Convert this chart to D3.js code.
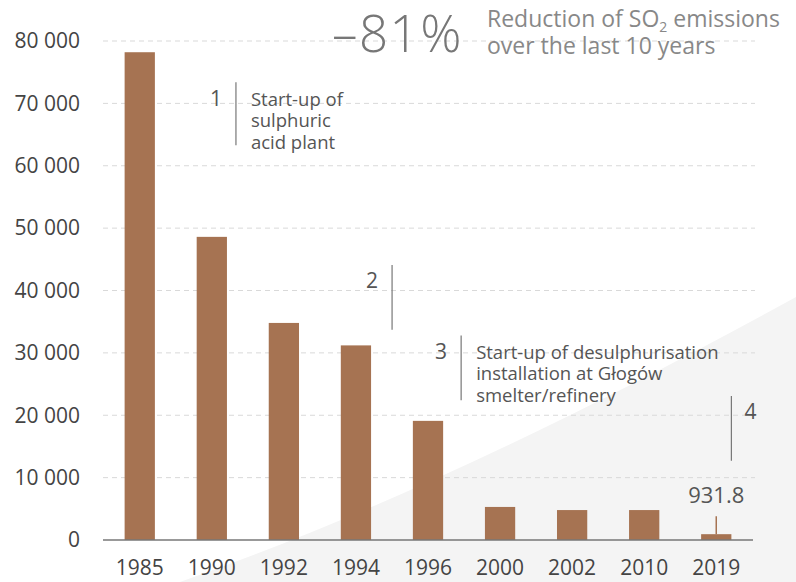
<!DOCTYPE html>
<html>
<head>
<meta charset="utf-8">
<script src="https://cdn.jsdelivr.net/npm/d3@7"></script>
<style>
  body { margin: 0; background: #fff; }
  svg { display: block; font-family: "Open Sans", sans-serif; }
</style>
</head>
<body>
<svg id="chart"></svg>
<script>
// SO2 emissions by year
const years = ["1985", "1990", "1992", "1994", "1996", "2000", "2002", "2010", "2019"];
const emissions = [78200, 48600, 34800, 31200, 19100, 5300, 4800, 4800, 931.8];
const yTicks = [0, 10000, 20000, 30000, 40000, 50000, 60000, 70000, 80000];

// numbered milestones: placed after a given year's bar, spanning a value range
const noteNums = ["1", "2", "3", "4"];
const noteYears = ["1990", "1994", "1996", "2019"];
const noteTop = [73400, 44100, 32800, 23100];
const noteBottom = [63300, 33700, 22400, 12700];
const noteTexts = [
    ["Start-up of", "sulphuric", "acid plant"],
    [],
    ["Start-up of desulphurisation", "installation at Głogów", "smelter/refinery"],
    []
];

const width = 796;
const height = 582;

const svg = d3.select("#chart")
    .attr("width", width)
    .attr("height", height);

// light grey wedge in the lower right corner
svg.append("path")
    .attr("d", "M180,582 Q449,488 796,297 L796,582 Z")
    .attr("fill", "#f4f4f4");

const x = d3.scaleBand()
    .domain(years)
    .range([103, 753])
    .paddingInner(0.58)
    .paddingOuter(0.3);

const y = d3.scaleLinear()
    .domain([0, 80000])
    .range([540, 41]);

const fmt = d3.formatLocale({ decimal: ".", thousands: " ", grouping: [3], currency: ["", ""] }).format(",");

// grid
svg.append("g")
    .selectAll("line")
    .data(yTicks.filter(d => d > 0))
    .enter()
    .append("line")
    .attr("x1", 103)
    .attr("x2", 755)
    .attr("y1", d => y(d))
    .attr("y2", d => y(d))
    .attr("stroke", "#d9d9d9")
    .attr("stroke-width", 1)
    .attr("stroke-dasharray", "5,4");

// y labels
svg.append("g")
    .selectAll("text")
    .data(yTicks)
    .enter()
    .append("text")
    .attr("x", 80)
    .attr("y", d => y(d))
    .attr("dy", "0.35em")
    .attr("text-anchor", "end")
    .style("font-size", "21px")
    .style("fill", "#444")
    .text(d => fmt(d));

// bars
svg.append("g")
    .selectAll("rect")
    .data(emissions)
    .enter()
    .append("rect")
    .attr("x", (d, i) => x(years[i]))
    .attr("y", d => y(d))
    .attr("width", x.bandwidth())
    .attr("height", d => y(0) - y(d))
    .attr("fill", "#a67352");

// baseline
svg.append("line")
    .attr("x1", 103)
    .attr("x2", 753)
    .attr("y1", y(0))
    .attr("y2", y(0))
    .attr("stroke", "#777")
    .attr("stroke-width", 1.5);

// x labels
svg.append("g")
    .selectAll("text")
    .data(years)
    .enter()
    .append("text")
    .attr("x", d => x(d) + x.bandwidth() / 2)
    .attr("y", 575)
    .attr("text-anchor", "middle")
    .style("font-size", "21px")
    .style("fill", "#444")
    .text(d => d);

// last value callout
const lastYear = years[years.length - 1];
const lastVal = emissions[emissions.length - 1];
const cx = x(lastYear) + x.bandwidth() / 2;
svg.append("line")
    .attr("x1", cx)
    .attr("x2", cx)
    .attr("y1", y(lastVal))
    .attr("y2", y(lastVal) - 18)
    .attr("stroke", "#a67352")
    .attr("stroke-width", 1.5);
svg.append("text")
    .attr("x", cx)
    .attr("y", y(lastVal) - 31)
    .attr("text-anchor", "middle")
    .style("font-size", "22px")
    .style("fill", "#555")
    .text(lastVal.toFixed(1));

// milestones
const notes = svg.append("g")
    .selectAll("g")
    .data(noteNums)
    .enter()
    .append("g");

const lineX = [9, 21, 18, 0];
notes.append("line")
    .attr("x1", (d, i) => x(noteYears[i]) + x.bandwidth() + lineX[i])
    .attr("x2", (d, i) => x(noteYears[i]) + x.bandwidth() + lineX[i])
    .attr("y1", (d, i) => y(noteTop[i]))
    .attr("y2", (d, i) => y(noteBottom[i]))
    .attr("stroke", "#777")
    .attr("stroke-width", 1.2);

notes.append("text")
    .attr("x", (d, i) => {
        const lx = x(noteYears[i]) + x.bandwidth() + lineX[i];
        return i === 3 ? lx + 13 : lx - 14;
    })
    .attr("y", (d, i) => y(noteTop[i]) + 16)
    .attr("dy", "0.35em")
    .attr("text-anchor", (d, i) => i === 3 ? "start" : "end")
    .style("font-size", "21px")
    .style("fill", "#555")
    .text(d => d);

notes.each(function(d, i) {
    const lx = x(noteYears[i]) + x.bandwidth() + lineX[i];
    d3.select(this).selectAll("text.desc")
        .data(noteTexts[i])
        .enter()
        .append("text")
        .attr("class", "desc")
        .attr("x", lx + 15)
        .attr("y", (t, j) => y(noteTop[i]) + 17 + j * 21.5)
        .attr("dy", "0.35em")
        .style("font-size", "18.5px")
        .style("fill", "#555")
        .text(t => t);
});

// headline
svg.append("text")
    .attr("x", 332)
    .attr("y", 52)
    .style("font-size", "51px")
    .style("font-weight", 300)
    .style("letter-spacing", "1.5px")
    .style("fill", "#777")
    .text("\u201381%");

const sub = svg.append("text")
    .attr("x", 487)
    .attr("y", 27)
    .style("font-size", "23px")
    .style("fill", "#888");
sub.append("tspan").text("Reduction of SO");
sub.append("tspan").attr("dy", 5).style("font-size", "14px").text("2");
sub.append("tspan").attr("dy", -5).text(" emissions");

svg.append("text")
    .attr("x", 487)
    .attr("y", 54)
    .style("font-size", "23px")
    .style("fill", "#888")
    .text("over the last 10 years");
</script>
</body>
</html>
